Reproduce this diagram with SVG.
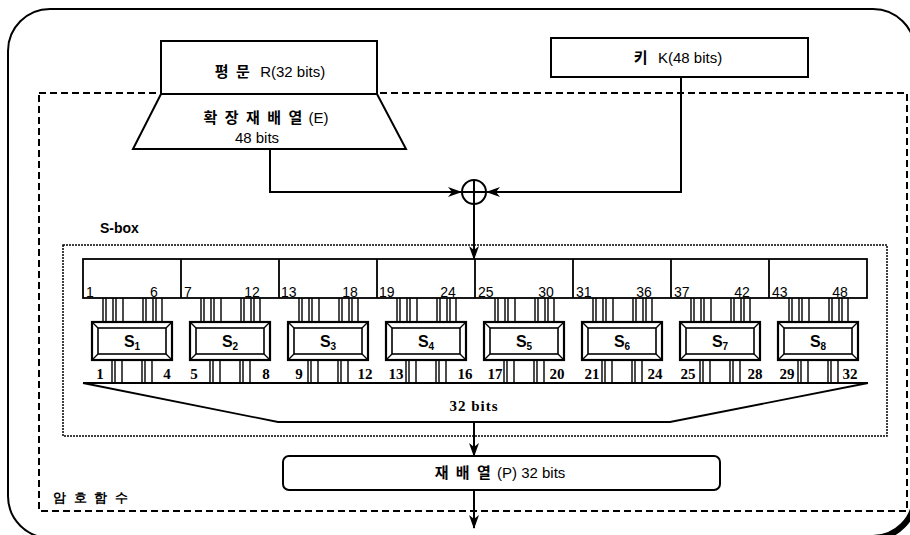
<svg xmlns="http://www.w3.org/2000/svg" width="910" height="535" viewBox="0 0 910 535">
<style>
  .ln{fill:none;stroke:#000;stroke-width:2}
  .box{fill:#fff;stroke:#000;stroke-width:2}
  .t{font-family:"Liberation Sans","Noto Sans CJK KR",sans-serif;font-size:15px;fill:#000;text-anchor:middle}
  .kr{font-family:"Noto Sans CJK KR","Liberation Sans",sans-serif;font-weight:bold;letter-spacing:2px}
  .n{font-family:"Liberation Sans",sans-serif;font-size:14px;fill:#000}
  .s{font-family:"Liberation Serif",serif;font-size:15px;font-weight:bold;fill:#000;text-anchor:middle}
  .sb{font-family:"Liberation Sans",sans-serif;font-weight:bold;font-size:16px;fill:#000;text-anchor:middle}
  .w{stroke:#000;stroke-width:1.4}
</style>
<defs>
  <marker id="ah" markerWidth="14" markerHeight="10" refX="13" refY="5" orient="auto" markerUnits="userSpaceOnUse">
    <path d="M0,0 L14,5 L0,10 L4,5 Z" fill="#000"/>
  </marker>
  <g id="sbox">
    <rect x="0" y="0" width="80" height="38" fill="#fff" stroke="#000" stroke-width="2.2"/>
    <rect x="6" y="6" width="68" height="26" fill="#fff" stroke="#000" stroke-width="1.6"/>
    <path d="M0,0 L6,6 M80,0 L74,6 M0,38 L6,32 M80,38 L74,32" stroke="#000" stroke-width="1.4"/>
  </g>
  <g id="win">
    <path d="M20,0 V24 M23,0 V24 M30,0 V24 M33,0 V24 M40,0 V24 M60,0 V24 M63,0 V24 M70,0 V24 M73,0 V24 M79,0 V24" class="w"/>
  </g>
  <g id="wout">
    <path d="M29,0 V23 M32,0 V23 M39,0 V23 M59,0 V23 M62,0 V23 M69,0 V23" class="w"/>
  </g>
</defs>
<rect width="910" height="535" fill="#fff"/>

<g id="outer">
  <path d="M50 9 H873 A42 42 0 0 1 915 51 V496 A42 42 0 0 1 873 538 H50 A42 42 0 0 1 8 496 V51 A42 42 0 0 1 50 9 Z" class="ln"/>
  <path d="M915 496 A42 42 0 0 1 873 538" fill="none" stroke="#000" stroke-width="6"/>
</g>

<g id="cipher-function">
  <rect x="39" y="93" width="868" height="418" fill="none" stroke="#000" stroke-width="2" stroke-dasharray="7,4"/>
  <text x="53" y="502" class="n kr" style="font-size:13px;letter-spacing:2px">암 호 함 수</text>
</g>

<g id="plaintext">
  <rect x="161" y="41" width="216" height="53" class="box"/>
  <text x="270" y="77" class="t"><tspan class="kr">평 문</tspan>&#160;&#160;R(32 bits)</text>
</g>

<g id="expansion">
  <path d="M161 94 H377 L406 149 H133 Z" class="box"/>
  <text x="266" y="123" class="t"><tspan class="kr">확 장 재 배 열</tspan>&#160;(E)</text>
  <text x="257" y="143" class="t">48 bits</text>
</g>

<g id="key">
  <rect x="551" y="38" width="257" height="39" class="box"/>
  <text x="678" y="63" class="t"><tspan class="kr">키</tspan>&#160;&#160;K(48 bits)</text>
</g>

<g id="xor">
  <circle cx="474" cy="192" r="12" fill="#fff" stroke="#000" stroke-width="2"/>
  <path d="M462 192 H486 M474 180 V204" stroke="#000" stroke-width="2"/>
</g>

<g id="sbox-frame">
  <rect x="63" y="245" width="824" height="191" fill="none" stroke="#000" stroke-width="1.5" stroke-dasharray="2,1"/>
  <text x="100" y="233" class="n" style="font-weight:bold;font-size:14px">S-box</text>
</g>

<g id="register">
  <rect x="83" y="259" width="784" height="39" fill="none" stroke="#000" stroke-width="1.8"/>
  <path d="M181 259 V298 M279 259 V298 M377 259 V298 M475 259 V298 M573 259 V298 M671 259 V298 M769 259 V298" stroke="#000" stroke-width="1.8"/>
  <g class="n">
    <text x="86" y="297">1</text><text x="154" y="297" text-anchor="middle">6</text>
    <text x="184" y="297">7</text><text x="252" y="297" text-anchor="middle">12</text>
    <text x="281" y="297">13</text><text x="350" y="297" text-anchor="middle">18</text>
    <text x="379" y="297">19</text><text x="448" y="297" text-anchor="middle">24</text>
    <text x="478" y="297">25</text><text x="546" y="297" text-anchor="middle">30</text>
    <text x="576" y="297">31</text><text x="644" y="297" text-anchor="middle">36</text>
    <text x="674" y="297">37</text><text x="742" y="297" text-anchor="middle">42</text>
    <text x="772" y="297">43</text><text x="840" y="297" text-anchor="middle">48</text>
  </g>
</g>

<g id="s-boxes">
  <use href="#win" x="83" y="298"/><use href="#win" x="181" y="298"/><use href="#win" x="279" y="298"/><use href="#win" x="377" y="298"/>
  <use href="#win" x="475" y="298"/><use href="#win" x="573" y="298"/><use href="#win" x="671" y="298"/><use href="#win" x="769" y="298"/>
  <use href="#wout" x="83" y="360"/><use href="#wout" x="181" y="360"/><use href="#wout" x="279" y="360"/><use href="#wout" x="377" y="360"/>
  <use href="#wout" x="475" y="360"/><use href="#wout" x="573" y="360"/><use href="#wout" x="671" y="360"/><use href="#wout" x="769" y="360"/>
  <g id="S1"><use href="#sbox" x="92" y="322"/><text x="132" y="347" class="sb">S<tspan font-size="10" dy="3">1</tspan></text></g>
  <g id="S2"><use href="#sbox" x="190" y="322"/><text x="230" y="347" class="sb">S<tspan font-size="10" dy="3">2</tspan></text></g>
  <g id="S3"><use href="#sbox" x="288" y="322"/><text x="328" y="347" class="sb">S<tspan font-size="10" dy="3">3</tspan></text></g>
  <g id="S4"><use href="#sbox" x="386" y="322"/><text x="426" y="347" class="sb">S<tspan font-size="10" dy="3">4</tspan></text></g>
  <g id="S5"><use href="#sbox" x="484" y="322"/><text x="524" y="347" class="sb">S<tspan font-size="10" dy="3">5</tspan></text></g>
  <g id="S6"><use href="#sbox" x="582" y="322"/><text x="622" y="347" class="sb">S<tspan font-size="10" dy="3">6</tspan></text></g>
  <g id="S7"><use href="#sbox" x="680" y="322"/><text x="720" y="347" class="sb">S<tspan font-size="10" dy="3">7</tspan></text></g>
  <g id="S8"><use href="#sbox" x="778" y="322"/><text x="818" y="347" class="sb">S<tspan font-size="10" dy="3">8</tspan></text></g>
  <g class="s">
    <text x="100" y="379">1</text><text x="167" y="379">4</text>
    <text x="194" y="379">5</text><text x="266" y="379">8</text>
    <text x="299" y="379">9</text><text x="365" y="379">12</text>
    <text x="396" y="379">13</text><text x="465" y="379">16</text>
    <text x="495" y="379">17</text><text x="557" y="379">20</text>
    <text x="592" y="379">21</text><text x="655" y="379">24</text>
    <text x="688" y="379">25</text><text x="755" y="379">28</text>
    <text x="787" y="379">29</text><text x="850" y="379">32</text>
  </g>
</g>

<g id="merge">
  <path d="M83 383 H868 M83 383 L278 422 H670 L868 383" fill="none" stroke="#000" stroke-width="1.8"/>
  <text x="474" y="411" class="s" style="letter-spacing:1px">32 bits</text>
</g>

<g id="permutation">
  <rect x="283" y="456" width="437" height="34" rx="6" class="box"/>
  <text x="500" y="478" class="t"><tspan class="kr">재 배 열</tspan>&#160;(P) 32 bits</text>
</g>

<g id="connectors">
  <path d="M270 149 V192 H461" class="ln" marker-end="url(#ah)"/>
  <path d="M681 77 V192 H487" class="ln" marker-end="url(#ah)"/>
  <path d="M474 204 V259" class="ln" marker-end="url(#ah)"/>
  <path d="M474 422 V456" class="ln" marker-end="url(#ah)"/>
  <path d="M474 490 V528" class="ln" marker-end="url(#ah)"/>
</g>
</svg>
